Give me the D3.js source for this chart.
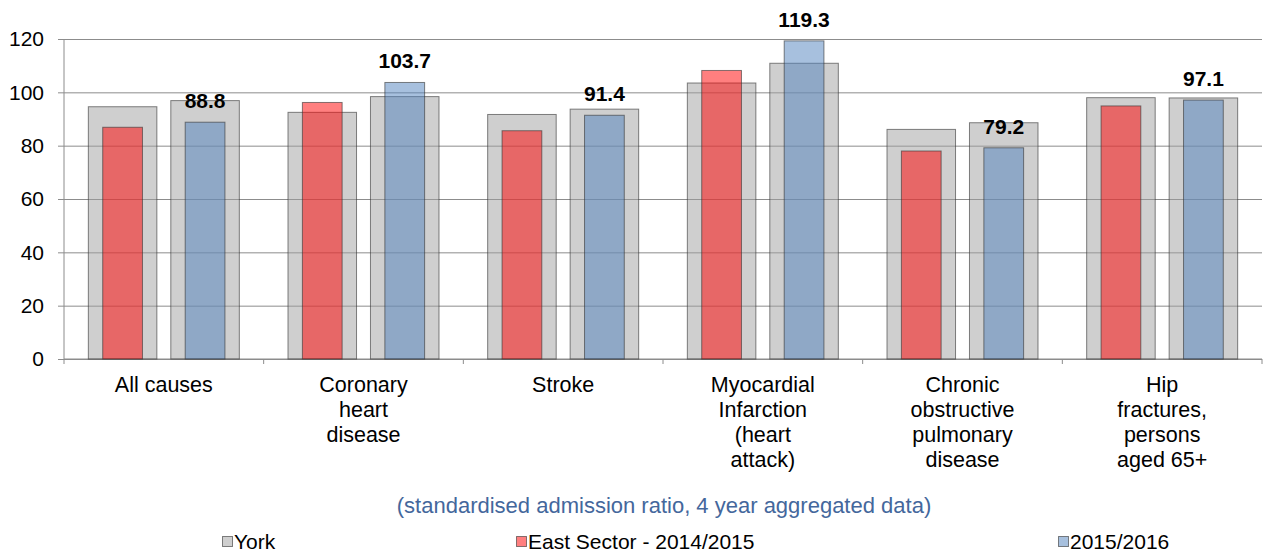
<!DOCTYPE html>
<html>
<head>
<meta charset="utf-8">
<script src="https://cdn.jsdelivr.net/npm/d3@7"></script>
<style>
  body { margin: 0; background: #fff; }
  svg { display: block; font-family: "Liberation Sans", Arial, sans-serif; }
</style>
</head>
<body>
<svg id="chart" width="1266" height="554"></svg>
<script>
const categories = [
  ["All causes"],
  ["Coronary", "heart", "disease"],
  ["Stroke"],
  ["Myocardial", "Infarction", "(heart", "attack)"],
  ["Chronic", "obstructive", "pulmonary", "disease"],
  ["Hip", "fractures,", "persons", "aged 65+"]
];
const periods = ["2014/2015", "2015/2016"];
const york1415 = [94.6, 92.5, 91.7, 103.5, 86.1, 98.0];
const york1516 = [96.9, 98.4, 93.7, 110.9, 88.6, 97.9];
const east1415 = [86.9, 96.2, 85.6, 108.2, 78.0, 94.9];
const east1516 = [88.8, 103.7, 91.4, 119.3, 79.2, 97.1];
const yTicks = [0, 20, 40, 60, 80, 100, 120];
const legendLabels = ["York", "East Sector - 2014/2015", "2015/2016"];
const subtitle = "(standardised admission ratio, 4 year aggregated data)";

const svg = d3.select("#chart");
const pLeft = 64, pRight = 1262, pTop = 39, pBottom = 359;

const x = d3.scaleBand().domain(d3.range(categories.length)).range([pLeft, pRight]).paddingInner(0).paddingOuter(0);
const xInner = d3.scaleBand().domain(periods).range([0, x.bandwidth()]).paddingInner(0.169).paddingOuter(0.295);
const y = d3.scaleLinear().domain([0, 120]).range([pBottom, pTop]);

const greyFill = "rgba(160,160,160,0.5)";
const redFill = "rgba(255,0,0,0.5)";
const blueFill = "rgba(79,129,189,0.5)";
const barStroke = "rgba(50,50,50,0.6)";

// gridlines
svg.append("g")
  .attr("transform", `translate(${pLeft},0)`)
  .call(d3.axisLeft(y).tickValues(yTicks).tickSize(-(pRight - pLeft)).tickFormat(""))
  .call(g => g.select(".domain").remove())
  .call(g => g.selectAll("line").attr("stroke", "#8c8c8c").attr("stroke-width", 1));

// y axis
const yAxis = svg.append("g")
  .attr("transform", `translate(${pLeft},0)`)
  .call(d3.axisLeft(y).tickValues(yTicks).tickSize(6).tickPadding(14))
  .call(g => g.select(".domain").attr("stroke", "#8c8c8c").attr("d", `M0,${pTop}V${pBottom}`));
yAxis.selectAll("line").attr("stroke", "#8c8c8c");
yAxis.selectAll("text").attr("font-size", 21).attr("fill", "#000").attr("font-family", "Liberation Sans, Arial, sans-serif");

// x axis
const xAxis = svg.append("g")
  .attr("transform", `translate(0,${pBottom})`);
xAxis.append("line").attr("x1", pLeft).attr("x2", pRight).attr("stroke", "#8c8c8c");
const bounds = d3.range(categories.length + 1).map(i => i < categories.length ? x(i) : x(categories.length - 1) + x.bandwidth());
xAxis.selectAll("line.tick").data(bounds).join("line").attr("class", "tick")
  .attr("x1", d => d).attr("x2", d => d).attr("y1", 0).attr("y2", 5).attr("stroke", "#8c8c8c");

const labels = svg.append("g").selectAll("text").data(categories).join("text")
  .attr("text-anchor", "middle")
  .attr("font-size", 21.5)
  .attr("fill", "#000")
  .attr("x", (d, i) => x(i) + x.bandwidth() / 2)
  .attr("y", 392);
labels.selectAll("tspan").data(d => d).join("tspan")
  .attr("x", function() { return d3.select(this.parentNode).attr("x"); })
  .attr("dy", (d, i) => i === 0 ? 0 : 25)
  .text(d => d);

// bars
const york = [york1415, york1516];
const east = [east1415, east1516];
const fills = [redFill, blueFill];
const inner = 0.58;
const gBars = svg.append("g");
periods.forEach((p, k) => {
  gBars.selectAll(null).data(york[k]).join("rect")
    .attr("x", (d, i) => x(i) + xInner(p))
    .attr("width", xInner.bandwidth())
    .attr("y", d => y(d))
    .attr("height", d => y(0) - y(d))
    .attr("fill", greyFill)
    .attr("stroke", barStroke);
});
periods.forEach((p, k) => {
  const w = xInner.bandwidth() * inner;
  gBars.selectAll(null).data(east[k]).join("rect")
    .attr("x", (d, i) => x(i) + xInner(p) + (xInner.bandwidth() - w) / 2)
    .attr("width", w)
    .attr("y", d => y(d))
    .attr("height", d => y(0) - y(d))
    .attr("fill", fills[k])
    .attr("stroke", barStroke);
});

// value labels for 2015/2016
svg.append("g").selectAll("text").data(east1516).join("text")
  .attr("text-anchor", "middle")
  .attr("font-size", 21)
  .attr("font-weight", "bold")
  .attr("fill", "#000")
  .attr("x", (d, i) => x(i) + xInner(periods[1]) + xInner.bandwidth() / 2)
  .attr("y", d => y(d) - 14)
  .text(d => d.toFixed(1));

// subtitle
svg.append("text")
  .attr("x", 664).attr("y", 513)
  .attr("text-anchor", "middle")
  .attr("font-size", 22)
  .attr("fill", "#44679c")
  .text(subtitle);

// legend
const legendX = [222, 516, 1058];
const legendFills = [greyFill, redFill, blueFill];
const lg = svg.append("g").selectAll("g").data(legendLabels).join("g")
  .attr("transform", (d, i) => `translate(${legendX[i]},536)`);
lg.append("rect").attr("x", 0.5).attr("y", 0.5).attr("width", 10).attr("height", 10)
  .attr("fill", (d, i) => legendFills[i]).attr("stroke", barStroke);
lg.append("text").attr("x", 12).attr("y", 12.5).attr("font-size", 21).attr("fill", "#000").text(d => d);
</script>
</body>
</html>
